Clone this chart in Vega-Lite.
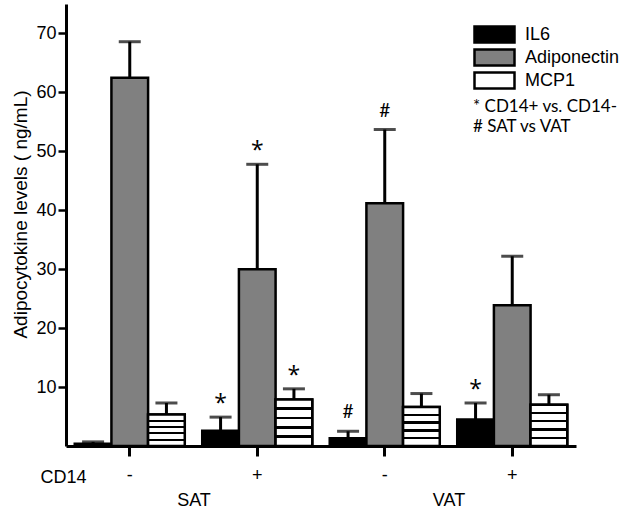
{
  "$schema": "https://vega.github.io/schema/vega-lite/v6.json",
  "width": 510,
  "height": 442,
  "autosize": {"type": "none"},
  "padding": {"left": 66, "top": 4, "right": 49, "bottom": 63},
  "background": "white",
  "config": {
    "view": {"stroke": null},
    "font": "Liberation Sans",
    "axis": {"grid": false, "domainColor": "black", "tickColor": "black", "labelColor": "black", "titleColor": "black", "titleFontWeight": "normal"},
    "legend": {"labelColor": "black"}
  },
  "data": {
    "values": [
      {"group": "SAT -", "site": "SAT", "cytokine": "IL6", "mean": 0.4, "upper": 0.7, "sig": "", "note": ""},
      {"group": "SAT -", "site": "SAT", "cytokine": "Adiponectin", "mean": 62.5, "upper": 68.6, "sig": "", "note": ""},
      {"group": "SAT -", "site": "SAT", "cytokine": "MCP1", "mean": 5.35, "upper": 7.3, "sig": "", "note": ""},
      {"group": "SAT +", "site": "SAT", "cytokine": "IL6", "mean": 2.6, "upper": 4.9, "sig": "*", "note": "* CD14+ vs. CD14-"},
      {"group": "SAT +", "site": "SAT", "cytokine": "Adiponectin", "mean": 30.0, "upper": 47.8, "sig": "*", "note": "* CD14+ vs. CD14-"},
      {"group": "SAT +", "site": "SAT", "cytokine": "MCP1", "mean": 7.9, "upper": 9.7, "sig": "*", "note": "* CD14+ vs. CD14-"},
      {"group": "VAT -", "site": "VAT", "cytokine": "IL6", "mean": 1.3, "upper": 2.5, "sig": "#", "note": "# SAT vs VAT"},
      {"group": "VAT -", "site": "VAT", "cytokine": "Adiponectin", "mean": 41.2, "upper": 53.7, "sig": "#", "note": "# SAT vs VAT"},
      {"group": "VAT -", "site": "VAT", "cytokine": "MCP1", "mean": 6.6, "upper": 8.9, "sig": "", "note": ""},
      {"group": "VAT +", "site": "VAT", "cytokine": "IL6", "mean": 4.5, "upper": 7.3, "sig": "*", "note": "* CD14+ vs. CD14-"},
      {"group": "VAT +", "site": "VAT", "cytokine": "Adiponectin", "mean": 23.9, "upper": 32.2, "sig": "", "note": ""},
      {"group": "VAT +", "site": "VAT", "cytokine": "MCP1", "mean": 7.0, "upper": 8.7, "sig": "", "note": ""}
    ]
  },
  "layer": [
    {
      "encoding": {
        "x": {
          "field": "group", "type": "nominal", "sort": ["SAT -", "SAT +", "VAT -", "VAT +"],
          "scale": {"paddingInner": 0.137, "paddingOuter": 0.0686},
          "axis": {
            "title": "CD14", "titleFontSize": 18, "titleAlign": "center", "titleAnchor": "start", "titleX": -3, "titleY": 22, "titleBaseline": "top",
            "labelExpr": "substring(datum.value, 4)", "labelFontSize": 18, "labelAngle": 0, "labelPadding": 10,
            "tickSize": 10, "tickWidth": 3, "domainWidth": 3
          }
        },
        "xOffset": {"field": "cytokine", "type": "nominal", "sort": ["IL6", "Adiponectin", "MCP1"], "scale": {"paddingInner": 0, "paddingOuter": 0}}
      },
      "layer": [
        {
          "mark": {"type": "bar", "stroke": "black", "strokeWidth": 2.5},
          "encoding": {
            "y": {
              "field": "mean", "type": "quantitative", "scale": {"domain": [0, 75], "nice": false},
              "axis": {
                "values": [10, 20, 30, 40, 50, 60, 70], "title": "Adipocytokine levels ( ng/mL)", "titleFontSize": 19,
                "titleX": -46, "titleY": 210, "titleBaseline": "middle", "labelFontSize": 18, "labelPadding": 2,
                "tickSize": 8, "tickWidth": 2.5, "domainWidth": 3
              }
            },
            "fill": {
              "field": "cytokine", "type": "nominal",
              "scale": {"domain": ["IL6", "Adiponectin", "MCP1"], "range": ["black", "#808080", "white"]},
              "legend": {
                "orient": "none", "legendX": 419, "legendY": 21, "title": null, "padding": 0,
                "symbolType": "M-2.5,-1H2.5V1H-2.5Z", "symbolSize": 256, "symbolStrokeColor": "black", "symbolStrokeWidth": 2.5,
                "labelFontSize": 18, "labelOffset": 21, "rowPadding": -5
              }
            }
          }
        },
        {
          "transform": [{"filter": "datum.cytokine === 'MCP1'"}],
          "mark": {
            "type": "bar", "stroke": "black", "strokeWidth": 2.5,
            "fill": {
              "gradient": "linear", "x1": 0, "y1": 0, "x2": 0, "y2": 1,
              "stops": [
                {"offset": 0, "color": "white"},
                {"offset": 0.17, "color": "white"}, {"offset": 0.17, "color": "black"}, {"offset": 0.23, "color": "black"}, {"offset": 0.23, "color": "white"},
                {"offset": 0.37, "color": "white"}, {"offset": 0.37, "color": "black"}, {"offset": 0.43, "color": "black"}, {"offset": 0.43, "color": "white"},
                {"offset": 0.57, "color": "white"}, {"offset": 0.57, "color": "black"}, {"offset": 0.63, "color": "black"}, {"offset": 0.63, "color": "white"},
                {"offset": 0.77, "color": "white"}, {"offset": 0.77, "color": "black"}, {"offset": 0.83, "color": "black"}, {"offset": 0.83, "color": "white"},
                {"offset": 1, "color": "white"}
              ]
            }
          },
          "encoding": {"y": {"field": "mean", "type": "quantitative"}}
        },
        {
          "mark": {"type": "rule", "color": "black", "strokeWidth": 3},
          "encoding": {"y": {"field": "mean", "type": "quantitative"}, "y2": {"field": "upper"}}
        },
        {
          "mark": {"type": "tick", "color": "black", "thickness": 3},
          "encoding": {"y": {"field": "upper", "type": "quantitative"}, "size": {"value": 22}}
        },
        {
          "transform": [{"filter": "datum.sig === '*'"}],
          "mark": {"type": "text", "font": "Open Sans", "fontSize": 23, "dy": -6, "baseline": "alphabetic", "color": "black"},
          "encoding": {
            "y": {"field": "upper", "type": "quantitative"},
            "text": {"field": "sig"},
            "opacity": {
              "field": "note", "type": "nominal",
              "scale": {"domain": ["* CD14+ vs. CD14-", "# SAT vs VAT"], "range": [1, 1]},
              "legend": {
                "orient": "none", "legendX": 390, "legendY": 94, "title": null, "padding": 0,
                "symbolSize": 0, "symbolOpacity": 0, "labelOffset": 0, "labelFont": "Lato", "labelFontSize": 17, "rowPadding": 2
              }
            }
          }
        },
        {
          "transform": [{"filter": "datum.sig === '#'"}],
          "mark": {"type": "text", "font": "Lato", "fontSize": 19, "dy": -13, "baseline": "alphabetic", "color": "black"},
          "encoding": {
            "y": {"field": "upper", "type": "quantitative"},
            "text": {"field": "sig"},
            "opacity": {"field": "note", "type": "nominal"}
          }
        }
      ]
    },
    {
      "mark": {"type": "rule", "opacity": 0},
      "encoding": {
        "x": {
          "field": "site", "type": "nominal", "scale": {"type": "point", "padding": 0.5},
          "axis": {"orient": "bottom", "domain": false, "ticks": false, "labelPadding": 45, "labelFontSize": 18, "labelAngle": 0, "title": null}
        }
      }
    }
  ],
  "resolve": {"scale": {"x": "independent"}, "axis": {"x": "independent"}}
}
